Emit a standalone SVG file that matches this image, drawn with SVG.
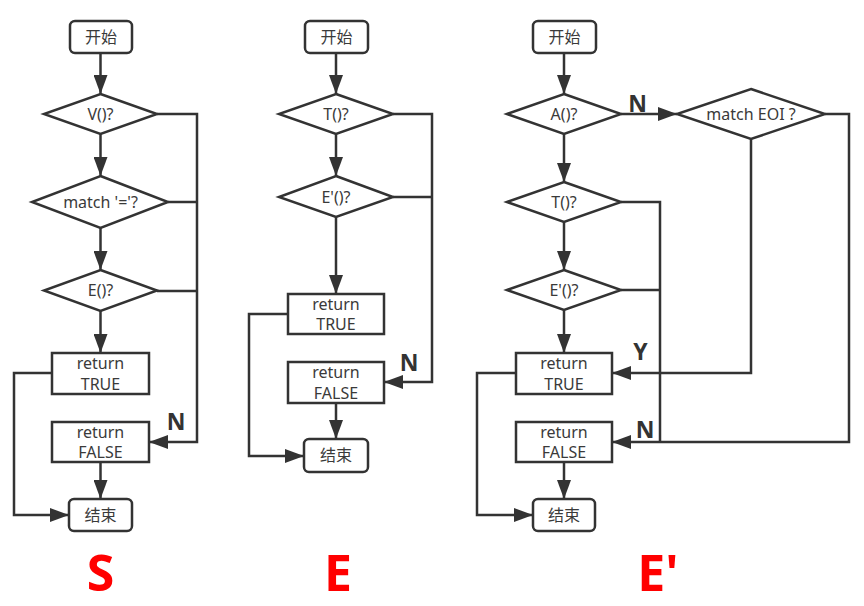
<svg xmlns="http://www.w3.org/2000/svg" width="864" height="606" viewBox="0 0 864 606">
<style>
.s{fill:#fff;stroke:#333;stroke-width:2.5}
.t{font-family:"Noto Sans","Noto Sans CJK SC",sans-serif;font-size:16px;fill:#3a3a3a;text-anchor:middle}
.c{fill:none;stroke:#333;stroke-width:2.5}
.a{marker-end:url(#ah)}
.lb{font-family:"Open Sans","Noto Sans",sans-serif;font-weight:bold;font-size:23px;fill:#333;text-anchor:middle}
.big{font-family:"Open Sans","Noto Sans",sans-serif;font-weight:bold;font-size:50px;fill:#ff0000;text-anchor:middle}
</style>
<defs>
<marker id="ah" markerUnits="userSpaceOnUse" markerWidth="20" markerHeight="14" refX="19" refY="7" orient="auto">
<path d="M0,0 L19,7 L0,14 Z" fill="#333"/>
</marker>
</defs>
<rect width="864" height="606" fill="#fff"/>
<g id="connectors">
<!-- S -->
<path class="c a" d="M100.5,53 V94"/>
<path class="c a" d="M100.5,134 V176"/>
<path class="c a" d="M100.5,228 V270"/>
<path class="c a" d="M100.5,311 V353"/>
<path class="c a" d="M100.5,462 V499"/>
<path class="c a" d="M157,114 H197 V442 H149"/>
<path class="c" d="M168,202 H197"/>
<path class="c" d="M157,291 H197"/>
<path class="c a" d="M52,373 H14 V515 H69"/>
<!-- E -->
<path class="c a" d="M336,53 V94"/>
<path class="c a" d="M336,134 V176"/>
<path class="c a" d="M336,217 V294"/>
<path class="c a" d="M336,403 V439"/>
<path class="c a" d="M393,114 H432 V382 H384"/>
<path class="c" d="M393,197 H432"/>
<path class="c a" d="M288,314 H249 V456 H304"/>
<!-- E' -->
<path class="c a" d="M564,53 V94"/>
<path class="c a" d="M564,134 V182"/>
<path class="c a" d="M564,222 V270"/>
<path class="c a" d="M564,310 V353"/>
<path class="c a" d="M564,462 V499"/>
<path class="c a" d="M621,114 H677"/>
<path class="c a" d="M751,139 V373 H612"/>
<path class="c a" d="M825,114 H849 V442 H612"/>
<path class="c" d="M621,202 H660 V442"/>
<path class="c" d="M621,290 H660"/>
<path class="c a" d="M516,373 H477 V515 H533"/>
</g>
<!-- S nodes -->
<g id="s-start"><rect class="s" x="70" y="21" width="62" height="32" rx="5"/><text class="t" x="101" y="43">开始</text></g>
<g id="s-v"><polygon class="s" points="100.5,94 157,114 100.5,134 44,114"/><text class="t" x="100.5" y="119.5">V()?</text></g>
<g id="s-match"><polygon class="s" points="100.5,176 168,202 100.5,228 32,202"/><text class="t" x="100.5" y="207.5">match '='?</text></g>
<g id="s-e"><polygon class="s" points="100.5,270 157,290.5 100.5,311 44,290.5"/><text class="t" x="100.5" y="296">E()?</text></g>
<g id="s-true"><rect class="s" x="52" y="353" width="97" height="41"/><text class="t" x="100.5" y="369">return</text><text class="t" x="100.5" y="390">TRUE</text></g>
<g id="s-false"><rect class="s" x="52" y="422" width="97" height="40"/><text class="t" x="100.5" y="438">return</text><text class="t" x="100.5" y="458">FALSE</text></g>
<g id="s-end"><rect class="s" x="69" y="499" width="63" height="32" rx="5"/><text class="t" x="100.5" y="521">结束</text></g>
<text class="lb" x="176" y="430">N</text>
<text class="big" x="100.5" y="591">S</text>
<!-- E nodes -->
<g id="e-start"><rect class="s" x="305" y="21" width="63" height="32" rx="5"/><text class="t" x="336.5" y="43">开始</text></g>
<g id="e-t"><polygon class="s" points="336,94 393,114 336,134 279,114"/><text class="t" x="336" y="119.5">T()?</text></g>
<g id="e-e"><polygon class="s" points="336,176 393,197 336,217 279,197"/><text class="t" x="336" y="202.5">E'()?</text></g>
<g id="e-true"><rect class="s" x="288" y="294" width="96" height="40"/><text class="t" x="336" y="310">return</text><text class="t" x="336" y="330">TRUE</text></g>
<g id="e-false"><rect class="s" x="288" y="362" width="96" height="41"/><text class="t" x="336" y="378">return</text><text class="t" x="336" y="399">FALSE</text></g>
<g id="e-end"><rect class="s" x="304" y="439" width="64" height="33" rx="5"/><text class="t" x="336" y="461">结束</text></g>
<text class="lb" x="409" y="371">N</text>
<text class="big" x="338" y="591">E</text>
<!-- E' nodes -->
<g id="ep-start"><rect class="s" x="533" y="21" width="63" height="32" rx="5"/><text class="t" x="564.5" y="43">开始</text></g>
<g id="ep-a"><polygon class="s" points="564,94 621,114 564,134 507,114"/><text class="t" x="564" y="119.5">A()?</text></g>
<g id="ep-eoi"><polygon class="s" points="751,89 825,114 751,139 677,114"/><text class="t" x="751" y="119.5">match EOI ?</text></g>
<g id="ep-t"><polygon class="s" points="564,182 621,202 564,222 507,202"/><text class="t" x="564" y="207.5">T()?</text></g>
<g id="ep-e"><polygon class="s" points="564,270 621,290 564,310 507,290"/><text class="t" x="564" y="295.5">E'()?</text></g>
<g id="ep-true"><rect class="s" x="516" y="353" width="96" height="41"/><text class="t" x="564" y="369">return</text><text class="t" x="564" y="390">TRUE</text></g>
<g id="ep-false"><rect class="s" x="516" y="422" width="96" height="40"/><text class="t" x="564" y="438">return</text><text class="t" x="564" y="458">FALSE</text></g>
<g id="ep-end"><rect class="s" x="533" y="499" width="62" height="32" rx="5"/><text class="t" x="564" y="521">结束</text></g>
<text class="lb" x="637.5" y="112">N</text>
<text class="lb" x="640.5" y="360">Y</text>
<text class="lb" x="645" y="438">N</text>
<text class="big" x="658" y="591">E'</text>
</svg>
